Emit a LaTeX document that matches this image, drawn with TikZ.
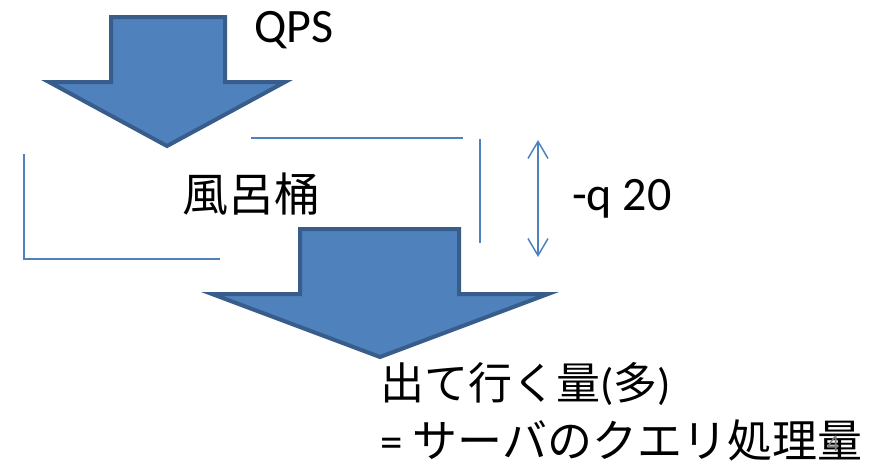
\documentclass[tikz,border=0pt]{standalone}
\usepackage{fontspec}
\setmainfont{Carlito}
\newfontfamily\jp{Noto Sans CJK JP}
\usetikzlibrary{arrows.meta}
\definecolor{accent}{HTML}{4F81BD}
\definecolor{accentdark}{HTML}{385D8A}
\tikzset{
  blockarrow/.style={fill=accent, draw=accentdark, line width=4pt, line join=miter},
  bucketline/.style={draw=accent, line width=1.5pt},
  dim/.style={draw=accent, line width=1.5pt, {Straight Barb[length=17pt,width=20pt]}-{Straight Barb[length=17pt,width=20pt]}},
  lbl/.style={inner sep=0pt, outer sep=0pt, text=black, anchor=base west}
}
\begin{document}
\begin{tikzpicture}[x=1pt,y=-1pt]
\useasboundingbox (0,0) rectangle (875,466);
% top arrow
\path[blockarrow] (111,17) -- (225,17) -- (225,82) -- (285,82) -- (167,146) -- (49,82) -- (111,82) -- cycle;
% bucket
\coordinate (t1) at (251,138); \coordinate (t2) at (463,138);
\coordinate (r1) at (480,139); \coordinate (r2) at (480,243);
\coordinate (l1) at (24,154); \coordinate (l2) at (24,259); \coordinate (b2) at (220,259);
\draw[bucketline] (t1) -- (t2);
\draw[bucketline] (r1) -- (r2);
\draw[bucketline] (l1) -- (l2) -- (b2);
% bottom arrow
\path[blockarrow] (300,229) -- (459,229) -- (459,294) -- (548,294) -- (380,357) -- (212,294) -- (300,294) -- cycle;
% dimension arrow
\coordinate (d1) at (538,140); \coordinate (d2) at (538,257);
\draw[dim] (d1) -- (d2);
% labels
\node[lbl] (qps) at (254,42) {\fontsize{48}{56}\selectfont QPS};
\node[inner sep=0pt] (bucket) at (251,194) {\jp\fontsize{46}{54}\selectfont 風呂桶};
\node[lbl] (q) at (572,210) {\fontsize{48}{56}\selectfont -q 20};
\node[lbl] (out1) at (380,399) {\fontsize{44}{52}\selectfont{\jp 出て行く量}({\jp 多})};
\node[lbl] (out2) at (380,457) {\fontsize{45}{52}\selectfont ={} {\jp サーバのクエリ処理量}};
\node[lbl, text=gray] (pagenum) at (827,451) {\fontsize{24}{28}\selectfont 4};
\end{tikzpicture}
\end{document}
